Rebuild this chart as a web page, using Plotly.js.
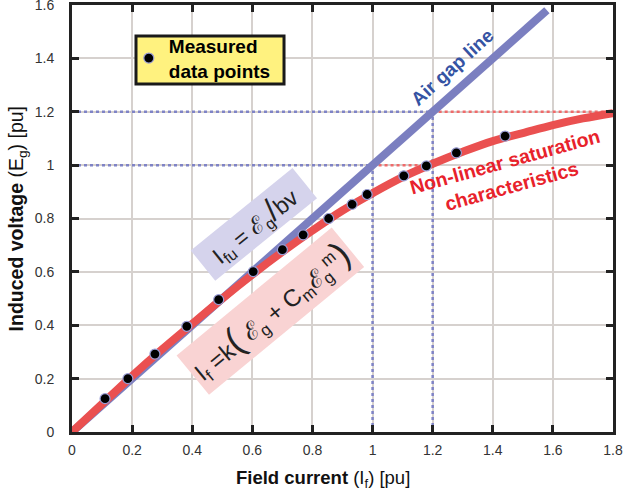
<!DOCTYPE html>
<html>
<head>
<meta charset="utf-8">
<script src="https://cdn.plot.ly/plotly-3.0.1.min.js"></script>
<style>html,body{margin:0;padding:0;background:#fff;}#chart{width:625px;height:492px;}</style>
</head>
<body>
<div id="chart"></div>
<script>
// Measured data points
var measX = [0.11, 0.186, 0.276, 0.382, 0.488, 0.603, 0.70, 0.769, 0.854, 0.932, 0.982, 1.104, 1.179, 1.279, 1.441];
var measY = [0.125, 0.20, 0.292, 0.396, 0.496, 0.601, 0.683, 0.739, 0.80, 0.853, 0.89, 0.96, 0.997, 1.046, 1.109];
// Non-linear saturation characteristic
var satX = [0, 0.1, 0.2, 0.3, 0.4, 0.5, 0.6, 0.7, 0.8, 0.9, 1.0, 1.1, 1.2, 1.3, 1.4, 1.5, 1.6, 1.7, 1.8];
var satY = [0, 0.105, 0.21, 0.31, 0.405, 0.5, 0.59, 0.675, 0.755, 0.83, 0.895, 0.955, 1.005, 1.05, 1.09, 1.12, 1.15, 1.175, 1.195];
// Air gap line
var airX = [0, 1.58];
var airY = [0, 1.58];
// Guide lines
var blueH1X = [0, 1.0], blueH1Y = [1.0, 1.0];
var blueH2X = [0, 1.2], blueH2Y = [1.2, 1.2];
var blueV1X = [1.0, 1.0], blueV1Y = [0, 1.0];
var blueV2X = [1.2, 1.2], blueV2Y = [0, 1.2];
var redH1X = [1.0, 1.19], redH1Y = [1.0, 1.0];
var redH2X = [1.2, 1.8], redH2Y = [1.2, 1.2];
var xTicks = [0, 0.2, 0.4, 0.6, 0.8, 1, 1.2, 1.4, 1.6, 1.8];
var xTickText = ['0', '0.2', '0.4', '0.6', '0.8', '1', '1.2', '1.4', '1.6', '1.8'];
var yTicks = [0, 0.2, 0.4, 0.6, 0.8, 1, 1.2, 1.4, 1.6];
var yTickText = ['0', '0.2', '0.4', '0.6', '0.8', '1', '1.2', '1.4', '1.6'];

var BLUE = '#7b7fc0', RED = '#ea5050';
var FONT = 'Liberation Sans, Arial, Helvetica, sans-serif';

function guide(x, y, c) {
  return {x: x, y: y, mode: 'lines', line: {color: c, width: 2.5, dash: 'dot'}, showlegend: false, hoverinfo: 'skip'};
}

var traces = [
  guide(blueH1X, blueH1Y, '#7f83c6'),
  guide(blueH2X, blueH2Y, '#7f83c6'),
  guide(blueV1X, blueV1Y, '#7f83c6'),
  guide(blueV2X, blueV2Y, '#7f83c6'),
  guide(redH1X, redH1Y, '#f06a6a'),
  guide(redH2X, redH2Y, '#f06a6a'),
  {x: airX, y: airY, mode: 'lines', line: {color: BLUE, width: 8}, showlegend: false},
  {x: satX, y: satY, mode: 'lines', line: {color: RED, width: 8, shape: 'spline'}, showlegend: false},
  {x: measX, y: measY, mode: 'markers', name: '<b>Measured</b><br><b>data points</b>',
   marker: {color: '#000', size: 10, line: {color: '#9a9dd6', width: 1.2}}, showlegend: true}
];

var layout = {
  width: 625, height: 492,
  margin: {l: 72, r: 12, t: 5, b: 60},
  paper_bgcolor: '#fff', plot_bgcolor: '#fff',
  font: {family: FONT, color: '#222'},
  showlegend: true,
  legend: {x: 0.105, y: 0.875, xanchor: 'left', yanchor: 'middle', bgcolor: 'rgba(0,0,0,0)',
           borderwidth: 0, font: {size: 19, color: '#000', family: FONT},
           itemwidth: 30, tracegroupgap: 0},
  shapes: [
    {type: 'rect', xref: 'paper', yref: 'paper', x0: 0.1183, x1: 0.3919, y0: 0.815, y1: 0.9274,
     fillcolor: '#fff27f', line: {color: '#1a1a1a', width: 3}, layer: 'above'}
  ],
  xaxis: {range: [0, 1.8], tickvals: xTicks, ticktext: xTickText, showgrid: true,
          gridcolor: '#d6d1ce', gridwidth: 2, zeroline: false, showline: true, linecolor: '#222',
          linewidth: 3, mirror: 'ticks', ticks: 'inside', ticklen: 7, tickwidth: 3, tickcolor: '#222',
          tickfont: {size: 14, color: '#333'}, ticklabelstandoff: 3},
  yaxis: {range: [0, 1.6], tickvals: yTicks, ticktext: yTickText, showgrid: true,
          gridcolor: '#d6d1ce', gridwidth: 2, zeroline: false, showline: true, linecolor: '#222',
          linewidth: 3, mirror: 'ticks', ticks: 'inside', ticklen: 7, tickwidth: 3, tickcolor: '#222',
          tickfont: {size: 14, color: '#333'}, ticklabelstandoff: 12, ticklabeloverflow: 'allow'},
  annotations: [
    {xref: 'paper', yref: 'paper', x: 0.464, y: -0.11, xanchor: 'center', yanchor: 'middle', showarrow: false,
     text: '<b>Field current</b> (I<sub>f</sub>) [pu]', font: {size: 18.5, color: '#111'}},
    {xref: 'paper', yref: 'paper', x: -0.1, y: 0.5, xanchor: 'center', yanchor: 'middle', showarrow: false,
     textangle: -90, text: '<b>Induced voltage</b> (E<sub>g</sub>) [pu]', font: {size: 19.5, color: '#111'}},
    {xref: 'x', yref: 'y', x: 1.265, y: 1.364, showarrow: false, textangle: -42,
     text: '<b>Air gap line</b>', font: {size: 19, color: '#3553a3'}},
    {xref: 'x', yref: 'y', x: 1.451, y: 0.97, showarrow: false, textangle: -15.5,
     text: '<b>Non-linear saturation</b><br><b>characteristics</b>', font: {size: 19.5, color: '#e8222b'}},
    {xref: 'x', yref: 'y', x: 0.607, y: 0.778, showarrow: false, textangle: -39,
     width: 128, height: 36, bgcolor: '#d5d3ec',
     text: 'I<sub>fu</sub> = ℰ<sub>g</sub><span style="font-size:32px">/</span>bv', font: {size: 23, color: '#222'}},
    {xref: 'x', yref: 'y', x: 0.66, y: 0.455, showarrow: false, textangle: -39.5,
     width: 198, height: 48, bgcolor: '#f9d3d3',
     text: 'I<sub>f</sub> =k<span style="font-size:36px">(</span> ℰ<sub>g</sub> + C<sub>m</sub>ℰ<sub>g</sub><sup>m</sup><span style="font-size:36px">)</span>',
     font: {size: 24, color: '#222'}}
  ]
};

Plotly.newPlot('chart', traces, layout, {displayModeBar: false, staticPlot: true});
</script>
</body>
</html>
